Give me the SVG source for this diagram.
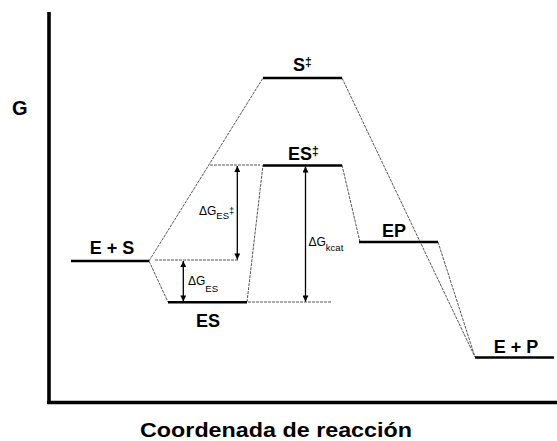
<svg xmlns="http://www.w3.org/2000/svg" width="557" height="441" viewBox="0 0 557 441">
<style>
.lvl{stroke:#000;stroke-width:2.6;fill:none}
.ax{stroke:#000;stroke-width:3.6;fill:none}
.path{stroke:#555;stroke-width:1;fill:none;stroke-dasharray:3 1}
.ref{stroke:#555;stroke-width:1;fill:none;stroke-dasharray:3 1}
.arr{stroke:#000;stroke-width:1.3;fill:none;marker-start:url(#ah);marker-end:url(#ah)}
.lbl{font-family:"Liberation Sans",Arial,sans-serif;font-weight:bold;font-size:18px;fill:#000}
.dg{font-family:"Liberation Sans",Arial,sans-serif;font-size:12px;fill:#000}
.sub{font-size:9.5px}
</style>
<defs>
<marker id="ah" viewBox="0 0 10 10" refX="10" refY="5" markerWidth="10" markerHeight="6" markerUnits="userSpaceOnUse" orient="auto-start-reverse">
<path d="M0,0 L10,5 L0,10 Z" fill="#000"/>
</marker>
</defs>
<rect width="557" height="441" fill="#fff"/>
<g id="axes">
<line class="ax" x1="49" y1="12" x2="49" y2="404"/>
<line class="ax" x1="47.2" y1="402.5" x2="557" y2="402.5"/>
<text x="12" y="115" style="font-family:'Liberation Sans',Arial,sans-serif;font-weight:bold;font-size:20px">G</text>
<text x="140" y="436.5" textLength="272" lengthAdjust="spacingAndGlyphs" style="font-family:'Liberation Sans',Arial,sans-serif;font-weight:bold;font-size:20.5px">Coordenada de reacción</text>
</g>
<g id="connectors">
<polyline class="path" points="149,261 263,78"/>
<polyline class="path" points="342,78 475,357"/>
<polyline class="path" points="149,261 168,302"/>
<polyline class="path" points="247,302 263,165"/>
<polyline class="path" points="342,165 360,242"/>
<polyline class="path" points="438,242 475,357"/>
<line class="ref" x1="210" y1="165" x2="260" y2="165"/>
<line class="ref" x1="155" y1="260" x2="238" y2="260"/>
<line class="ref" x1="248" y1="302" x2="331" y2="302"/>
<line class="arr" x1="237.3" y1="166" x2="237.3" y2="259.5"/>
<line class="arr" x1="183.3" y1="261" x2="183.3" y2="301.5"/>
<line class="arr" x1="305.5" y1="166.5" x2="305.5" y2="301.5"/>
</g>
<g id="n-es">
<line class="lvl" x1="71" y1="261" x2="149" y2="261"/>
<text class="lbl" x="112" y="254" text-anchor="middle">E + S</text>
</g>
<g id="n-s-ts">
<line class="lvl" x1="263" y1="78" x2="342" y2="78"/>
<text class="lbl" x="293" y="71">S<tspan font-size="12" dy="-5">‡</tspan></text>
</g>
<g id="n-es-ts">
<line class="lvl" x1="263" y1="165.5" x2="342" y2="165.5"/>
<text class="lbl" x="288" y="160">ES<tspan font-size="12" dy="-5">‡</tspan></text>
</g>
<g id="n-es-complex">
<line class="lvl" x1="168" y1="302.3" x2="247" y2="302.3"/>
<text class="lbl" x="208" y="327" text-anchor="middle">ES</text>
</g>
<g id="n-ep">
<line class="lvl" x1="359" y1="242" x2="438" y2="242"/>
<text class="lbl" x="394" y="237" text-anchor="middle">EP</text>
</g>
<g id="n-ep-free">
<line class="lvl" x1="475" y1="357.5" x2="554" y2="357.5"/>
<text class="lbl" x="516" y="353" text-anchor="middle">E + P</text>
</g>
<g id="labels">
<text class="dg" x="199" y="214.5">ΔG<tspan class="sub" dy="4.5">ES</tspan><tspan class="sub" dy="-5">‡</tspan></text>
<text class="dg" x="188" y="285">ΔG<tspan class="sub" dy="7">ES</tspan></text>
<text class="dg" x="308.5" y="245.5">ΔG<tspan class="sub" dy="5.5">kcat</tspan></text>
</g>
</svg>
